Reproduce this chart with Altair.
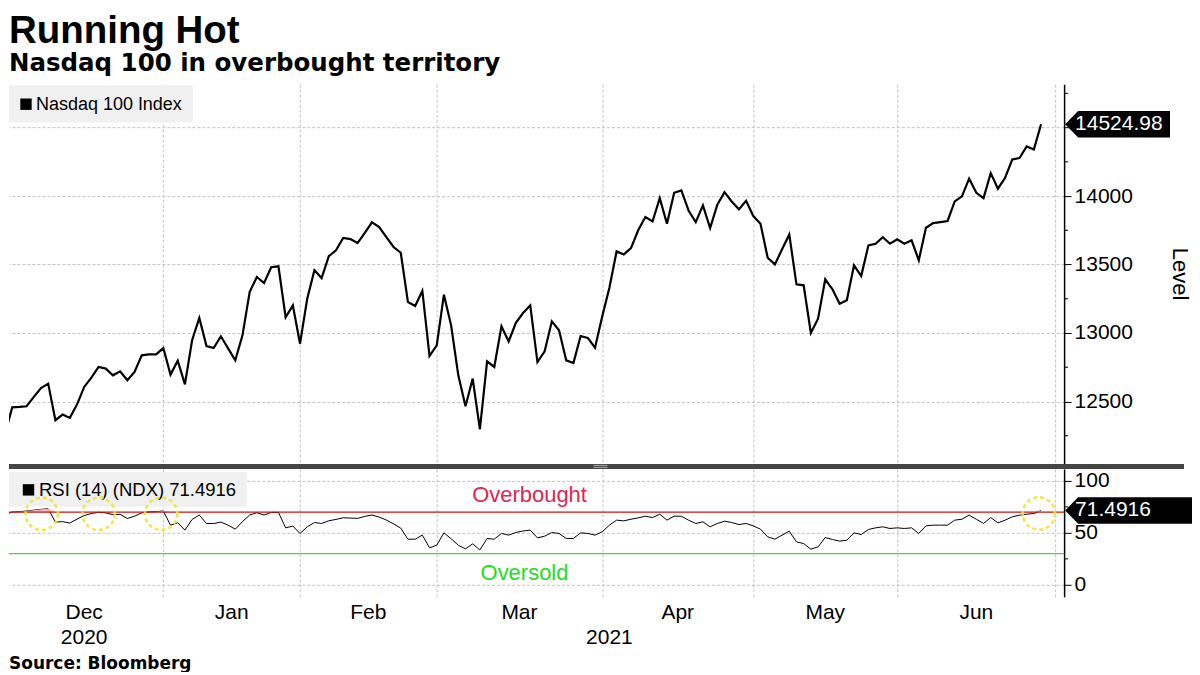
import altair as alt
import pandas as pd

# ---------------- data ----------------
ndx_close = [
    12265, 12457, 12460, 12465, 12533, 12598, 12630, 12363, 12404, 12380,
    12477, 12606, 12674, 12752, 12740, 12691, 12720, 12655, 12715, 12837,
    12844, 12844, 12890, 12696, 12798, 12625, 12947, 13110, 12905, 12890,
    12976, 12888, 12800, 12983, 13299, 13409, 13365, 13480, 13487, 13115,
    13202, 12922, 13250, 13458, 13401, 13562, 13604, 13694, 13686, 13657,
    13732, 13808, 13774, 13701, 13628, 13586, 13226, 13197, 13307, 12832,
    12910, 13280, 13056, 12691, 12465, 12667, 12297, 12793, 12752, 13049,
    12939, 13075, 13146, 13202, 12788, 12866, 13085, 13020, 12800, 12781,
    12978, 12964, 12893, 13120, 13330, 13596, 13574, 13620, 13750, 13847,
    13815, 13985, 13798, 14024, 14041, 13895, 13810, 13932, 13766, 13937,
    14029, 13961, 13903, 13966, 13854, 13798, 13550, 13501, 13611, 13720,
    13355, 13348, 13000, 13105, 13392, 13319, 13214, 13239, 13494, 13416,
    13640, 13652, 13699, 13652, 13684, 13652, 13677, 13531, 13769, 13803,
    13810, 13818, 13961, 13998, 14127, 14024, 13985, 14168, 14054, 14134,
    14268, 14278, 14363, 14341, 14524.98,
]

rsi14 = [
    67.5, 70.0, 70.4, 71.0, 71.8, 72.6, 73.2, 60.3, 60.8, 59.4,
    63.2, 66.6, 68.6, 69.8, 69.2, 67.4, 67.8, 63.8, 66.0, 69.2,
    70.1, 70.4, 71.0, 57.4, 59.7, 52.6, 62.9, 67.1, 59.0, 59.0,
    60.3, 57.4, 53.5, 60.8, 67.1, 69.4, 67.1, 69.7, 69.7, 54.8,
    56.5, 49.4, 55.8, 59.9, 59.0, 61.6, 62.9, 64.5, 64.2, 63.9,
    65.8, 67.1, 65.2, 62.3, 58.6, 54.5, 43.9, 43.9, 47.8, 35.6,
    38.1, 50.0, 44.3, 38.1, 34.6, 39.4, 33.5, 44.6, 43.9, 49.4,
    47.8, 50.3, 51.8, 52.6, 45.2, 46.8, 50.3, 49.4, 44.6, 44.6,
    50.0, 49.4, 47.8, 51.0, 57.4, 62.2, 61.5, 63.1, 64.4, 66.0,
    64.7, 67.9, 62.2, 66.0, 66.0, 62.2, 59.0, 60.6, 55.8, 59.0,
    61.2, 59.9, 58.0, 59.0, 56.7, 53.5, 46.2, 43.9, 47.8, 51.6,
    41.3, 39.7, 34.3, 36.5, 45.5, 43.6, 42.0, 42.9, 50.0, 48.4,
    53.2, 54.8, 55.8, 54.2, 54.8, 54.2, 54.8, 49.4, 56.7, 57.4,
    57.4, 57.4, 62.2, 63.1, 67.0, 63.1, 59.0, 64.7, 59.6, 62.2,
    65.4, 67.0, 67.9, 68.6, 71.4916,
]

# trading-day index of each month end (x gridlines)
month_bounds = [0, 22, 41, 60, 83, 104, 124, 146]
month_names = ["Dec", "Jan", "Feb", "Mar", "Apr", "May", "Jun"]
year_names = ["2020", "2021"]
year_spans = [(0, 22), (22, 146)]

ndx_major = [12500, 13000, 13500, 14000, 14500]
ndx_minor = [12250, 12750, 13250, 13750, 14250, 14750]
rsi_major = [0, 50, 100]
rsi_minor = [25, 75]
overbought = 70
oversold = 30

circle_idx = [5.1, 13.0, 21.7, 143.7]
circle_rsi = [68.3, 68.3, 68.3, 68.6]

ob_label_pos = (72.9, 80.0)
os_label_pos = (72.2, 4.8)

# ---------------- layout / style ----------------
W, H1, H2 = 1056, 380, 128
XDOM = [0.55, 147.2]
NDX_DOM = [12044, 14817]
RSI_DOM = [-11.5, 111.5]
GRID = "#c2c2c2"
SANS = "Liberation Sans"
VERD = "DejaVu Sans"

df = pd.DataFrame({"i": list(range(len(ndx_close))), "ndx": ndx_close, "rsi": rsi14})
one = pd.DataFrame({"k": [0]})

xscale = alt.Scale(domain=XDOM, nice=False, zero=False)
X_AXIS = alt.Axis(values=[b for b in month_bounds if b >= XDOM[0]], grid=True,
                  gridColor=GRID, gridDash=[3, 2], gridWidth=1, labels=False, ticks=False,
                  domain=False, title=None)


def xenc():
    return alt.X("i:Q", scale=xscale, axis=X_AXIS)


ndx_scale = alt.Scale(domain=NDX_DOM, nice=False, zero=False)
rsi_scale = alt.Scale(domain=RSI_DOM, nice=False, zero=False)


def yaxis(values, hide=None):
    expr = "datum.label" if hide is None else f"datum.value == {hide} ? '' : datum.label"
    return alt.Axis(orient="right", values=values, format="d", grid=True, gridColor=GRID,
                    gridDash=[3, 2], tickSize=7, tickColor="black", tickWidth=1,
                    domainColor="black", domainWidth=1.5, labelFont=SANS, labelFontSize=21,
                    labelColor="black", labelPadding=3, labelExpr=expr, title=None)


# the top label is hidden behind the last-value tag, as in the reference
NDX_AXIS = yaxis(ndx_major, hide=ndx_major[-1])
RSI_AXIS = yaxis(rsi_major)


def ytop(field="ndx"):
    return alt.Y(f"{field}:Q", scale=ndx_scale, axis=NDX_AXIS)


def ybot(field="rsi"):
    return alt.Y(f"{field}:Q", scale=rsi_scale, axis=RSI_AXIS)


def box(x1, x2, y1, y2, color):
    return alt.Chart(one).mark_rect(color=color).encode(
        x=alt.value(x1), x2=alt.value(x2), y=alt.value(y1), y2=alt.value(y2))


def label(text, x, y, size, font=SANS, weight="normal", color="black", align="left",
          baseline="alphabetic", angle=0):
    return alt.Chart(one).mark_text(text=text, font=font, fontSize=size, fontWeight=weight,
                                    color=color, align=align, baseline=baseline,
                                    angle=angle).encode(x=alt.value(x), y=alt.value(y))


def square(x, y):
    return alt.Chart(one).mark_point(shape="square", filled=True, color="black", opacity=1,
                                     size=130).encode(x=alt.value(x), y=alt.value(y))


# value tag shapes (arrow-shaped boxes pointing at the axis)
TAG_TOP = "M -1 0 L -0.752 -0.254 L 1 -0.254 L 1 0.254 L -0.752 0.254 Z"
TAG_BOT = "M -1 0 L -0.795 -0.21 L 1 -0.21 L 1 0.21 L -0.795 0.21 Z"

# ---------------- top panel ----------------
ndx_line = alt.Chart(df).mark_line(color="black", strokeWidth=2.2, clip=True).encode(
    x=xenc(), y=ytop())
ndx_minor_ticks = alt.Chart(pd.DataFrame({"ndx": ndx_minor})).mark_rule(
    color="black", strokeWidth=1).encode(y=ytop(), x=alt.value(W), x2=alt.value(W + 4))

last_top = pd.DataFrame({"ndx": [ndx_close[-1]], "txt": [f"{ndx_close[-1]:.2f}"]})
tag_top = alt.Chart(last_top).mark_point(shape=TAG_TOP, size=105 * 105, filled=True,
                                         color="black", opacity=1).encode(
    x=alt.value(W + 53.5), y=ytop())
tag_top_txt = alt.Chart(last_top).mark_text(color="white", font=SANS, fontSize=21,
                                            align="left", baseline="middle").encode(
    x=alt.value(W + 11), y=ytop(), text="txt:N")

top = alt.layer(
    ndx_line,
    box(0, 184, 1, 38, "#f0f0f0"),
    square(17, 20),
    label("Nasdaq 100 Index", 27, 20.5, 18, baseline="middle"),
    ndx_minor_ticks,
    tag_top,
    tag_top_txt,
    label("Level", W + 116, H1 / 2, 22, align="center", baseline="middle", angle=90),
    label("Running Hot", 0, -41, 38.5, weight="bold"),
    label("Nasdaq 100 in overbought territory", 0, -13, 24.5, font=VERD, weight="bold"),
    box(0, 1176, H1, H1 + 5, "#454545"),
    alt.Chart(one).mark_rule(color="#a8a8a8", strokeWidth=1).encode(
        x=alt.value(585), x2=alt.value(599), y=alt.value(H1 + 1.5)),
    alt.Chart(one).mark_rule(color="#a8a8a8", strokeWidth=1).encode(
        x=alt.value(585), x2=alt.value(599), y=alt.value(H1 + 3.5)),
).properties(width=W, height=H1)

# ---------------- bottom panel ----------------
rsi_line = alt.Chart(df).mark_line(color="black", strokeWidth=1, clip=True).encode(
    x=xenc(), y=ybot())

ob_fill = alt.Chart(df).transform_calculate(top=f"max(datum.rsi, {overbought})").mark_area(
    color="#f3b3b3", clip=True).encode(x=xenc(), y=ybot("top"), y2=alt.datum(overbought))
ob_rule = alt.Chart(pd.DataFrame({"rsi": [overbought]})).mark_rule(
    color="#cc1111", strokeWidth=1.3).encode(y=ybot())
os_rule = alt.Chart(pd.DataFrame({"rsi": [oversold]})).mark_rule(
    color="#4fd04f", strokeWidth=1.3).encode(y=ybot())
rsi_minor_ticks = alt.Chart(pd.DataFrame({"rsi": rsi_minor})).mark_rule(
    color="black", strokeWidth=1).encode(y=ybot(), x=alt.value(W), x2=alt.value(W + 4))

circles = alt.Chart(pd.DataFrame({"i": circle_idx, "rsi": circle_rsi})).mark_point(
    shape="circle", size=1050, filled=False, color="#f0e43c", strokeWidth=2.6,
    strokeDash=[4, 3], opacity=0.9).encode(x=xenc(), y=ybot())

zone_df = pd.DataFrame({
    "i": [ob_label_pos[0], os_label_pos[0]],
    "rsi": [ob_label_pos[1], os_label_pos[1]],
    "txt": ["Overbought", "Oversold"],
    "col": ["#e0264f", "#22dd22"],
})
zone_txt = alt.Chart(zone_df).mark_text(font=SANS, fontSize=22, align="center",
                                        baseline="alphabetic").encode(
    x=xenc(), y=ybot(), text="txt:N", color=alt.Color("col:N", scale=None))

last_bot = pd.DataFrame({"rsi": [rsi14[-1]], "txt": [f"{rsi14[-1]:.4f}"]})
tag_bot = alt.Chart(last_bot).mark_point(shape=TAG_BOT, size=127 * 127, filled=True,
                                         color="black", opacity=1).encode(
    x=alt.value(W + 64.5), y=ybot())
tag_bot_txt = alt.Chart(last_bot).mark_text(color="white", font=SANS, fontSize=21,
                                            align="left", baseline="middle").encode(
    x=alt.value(W + 11), y=ybot(), text="txt:N")

months_df = pd.DataFrame({
    "i": [(a + b) / 2 for a, b in zip(month_bounds[:-1], month_bounds[1:])],
    "txt": month_names,
})
years_df = pd.DataFrame({"i": [(a + b) / 2 for a, b in year_spans], "txt": year_names})
month_txt = alt.Chart(months_df).mark_text(font=SANS, fontSize=21, align="center",
                                           baseline="alphabetic", color="black").encode(
    x=xenc(), y=alt.value(H2 + 22), text="txt:N")
year_txt = alt.Chart(years_df).mark_text(font=SANS, fontSize=21, align="center",
                                         baseline="alphabetic", color="black").encode(
    x=xenc(), y=alt.value(H2 + 47), text="txt:N")

bottom = alt.layer(
    rsi_line,
    ob_fill,
    ob_rule,
    os_rule,
    box(0, 238, 3, 38, "#f0f0f0"),
    square(19.5, 21),
    label(f"RSI (14) (NDX) {rsi14[-1]:.4f}", 30, 21.5, 18.5, baseline="middle"),
    rsi_minor_ticks,
    circles,
    zone_txt,
    tag_bot,
    tag_bot_txt,
    month_txt,
    year_txt,
    label("Source: Bloomberg", 0, H2 + 72, 17, font=VERD, weight="bold"),
).properties(width=W, height=H2)

chart = alt.vconcat(top, bottom, spacing=5, bounds="flush").configure_view(
    stroke=None).properties(padding={"top": 4, "left": 0, "right": 0, "bottom": 0},
                            background="white")

chart.save("out.html", embed_options={"renderer": "svg", "actions": False})
